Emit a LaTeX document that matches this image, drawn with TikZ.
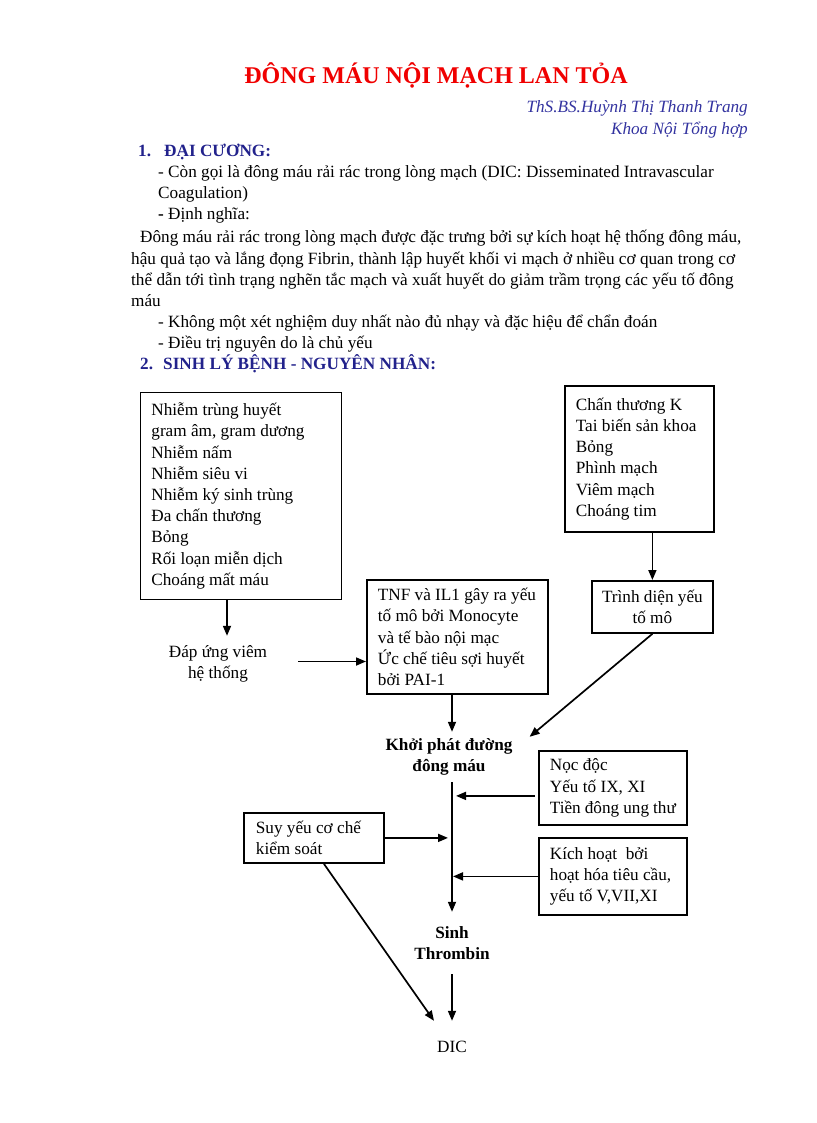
\documentclass[tikz,border=0pt]{standalone}
\usepackage{fontspec}
\setmainfont{Liberation Serif}
\usetikzlibrary{arrows.meta}
\definecolor{titlered}{RGB}{240,0,0}
\definecolor{headblue}{RGB}{34,34,140}
\definecolor{authblue}{RGB}{51,51,160}
\newcommand{\bodyfont}{\fontsize{17.2}{21.2}\selectfont}
\tikzset{
  txt/.style={font=\bodyfont, anchor=base west, inner sep=0pt},
  head/.style={font=\bodyfont\bfseries, text=headblue, anchor=base west, inner sep=0pt},
  auth/.style={font=\bodyfont\itshape, text=authblue, anchor=base east, inner sep=0pt},
  box/.style={draw, line width=1.8pt, anchor=north west, font=\bodyfont, align=flush left, inner ysep=0pt},
  lbl/.style={font=\bodyfont, align=flush center, inner ysep=0pt, inner xsep=3pt},
  arr/.style={line width=1.7pt, -{Triangle[length=10pt,width=8pt]}}
}
\begin{document}
\begin{tikzpicture}[x=1pt,y=-1pt]
\fill[white] (0,0) rectangle (816,1123);
\useasboundingbox (0,0) rectangle (816,1123);

% header text
\node[font=\fontsize{24}{28}\selectfont\bfseries, text=titlered, anchor=base, inner sep=0pt] (title) at (436,84) {ĐÔNG MÁU NỘI MẠCH LAN TỎA};
\node[auth] (au1) at (748,113) {ThS.BS.Huỳnh Thị Thanh Trang};
\node[auth] (au2) at (748,135) {Khoa Nội Tổng hợp};
\node[head] (h1) at (138,157) {\makebox[26pt][l]{1.}ĐẠI CƯƠNG:};
\node[txt] (l1) at (158,178) {- Còn gọi là đông máu rải rác trong lòng mạch (DIC: Disseminated Intravascular};
\node[txt] (l2) at (158,199) {Coagulation)};
\node[txt] (l3) at (158,220) {\textbf{-} Định nghĩa:};
\node[txt] (l4) at (140,243) {Đông máu rải rác trong lòng mạch được đặc trưng bởi sự kích hoạt hệ thống đông máu,};
\node[txt] (l5) at (131,264) {hậu quả tạo và lắng đọng Fibrin, thành lập huyết khối vi mạch ở nhiều cơ quan trong cơ};
\node[txt] (l6) at (131,285) {thể dẫn tới tình trạng nghẽn tắc mạch và xuất huyết do giảm trầm trọng các yếu tố đông};
\node[txt] (l7) at (131,306) {máu};
\node[txt] (l8) at (158,327) {- Không một xét nghiệm duy nhất nào đủ nhạy và đặc hiệu để chẩn đoán};
\node[txt] (l9) at (158,348) {- Điều trị nguyên do là chủ yếu};
\node[head] (h2) at (140,369) {\makebox[23pt][l]{2.}SINH LÝ BỆNH - NGUYÊN NHÂN:};

% boxes
\node[box, inner xsep=11pt, text width=179pt, minimum height=207pt] (A) at (139.5,391.5)
 {Nhiễm trùng huyết\\gram âm, gram dương\\Nhiễm nấm\\Nhiễm siêu vi\\Nhiễm ký sinh trùng\\Đa chấn thương\\Bỏng\\Rối loạn miễn dịch\\Choáng mất máu};
\node[box, inner xsep=11pt, text width=127pt, minimum height=146pt] (B) at (564,385)
 {Chấn thương K\\Tai biến sản khoa\\Bỏng\\Phình mạch\\Viêm mạch\\Choáng tim};
\node[box, inner xsep=3pt, text width=115pt, align=flush center, minimum height=52pt] (C) at (591,580)
 {Trình diện yếu\\tố mô};
\node[box, inner xsep=11pt, text width=159pt, minimum height=114pt] (D) at (366,579)
 {TNF và IL1 gây ra yếu\\tố mô bởi Monocyte\\và tế bào nội mạc\\Ức chế tiêu sợi huyết\\bởi PAI-1};
\node[box, inner xsep=11pt, text width=126pt, minimum height=74pt] (E) at (538,750)
 {Nọc độc\\Yếu tố IX, XI\\Tiền đông ung thư};
\node[box, inner xsep=12pt, text width=116pt, minimum height=50pt] (F) at (243,812)
 {Suy yếu cơ chế\\kiểm soát};
\node[box, inner xsep=11pt, text width=126pt, minimum height=77pt] (G) at (538,837)
 {Kích hoạt\ \ bởi\\hoạt hóa tiêu cầu,\\yếu tố V,VII,XI};

% free labels
\node[lbl, minimum height=55pt] (dap) at (218,663.5) {Đáp ứng viêm\\hệ thống};
\node[lbl, font=\bodyfont\bfseries, minimum height=50pt] (khoi) at (449,757) {Khởi phát đường\\đông máu};
\node[lbl, font=\bodyfont\bfseries, minimum height=62pt] (sinh) at (452,943) {Sinh\\Thrombin};
\node[lbl, minimum height=52pt] (dic) at (452,1047) {DIC};

% helper coordinates
\coordinate (axis) at (452,0);
\coordinate (aS) at ([xshift=87.5pt]A.south west);
\coordinate (aE) at (aS |- dap.north);
\coordinate (dS) at ([xshift=28pt,yshift=2pt]dap.east);
\coordinate (dE) at (D.west |- dS);
\coordinate (cE) at ([xshift=14pt,yshift=-5pt]khoi.north east);
\coordinate (eS) at ([xshift=-3pt,yshift=-8pt]E.west);
\coordinate (eE) at (456,0 |- eS);
\coordinate (fE) at (448,0 |- F.east);
\coordinate (gE) at (453,0 |- G.west);
\coordinate (fS) at ([xshift=10pt]F.south);

% connectors
\draw[arr] (aS) -- (aE);
\draw[arr] (dS) -- (dE);
\draw[arr] (B.south -| C.north) -- (C.north);
\draw[arr] (D.south -| axis) -- (khoi.north -| axis);
\draw[arr] (C.south) -- (cE);
\draw[arr] (khoi.south -| axis) -- (sinh.north -| axis);
\draw[arr] (eS) -- (eE);
\draw[arr] (F.east) -- (fE);
\draw[arr] (G.west) -- (gE);
\draw[arr] (sinh.south -| axis) -- (dic.north -| axis);
\draw[arr] (fS) -- (dic.north west);
\end{tikzpicture}
\end{document}
